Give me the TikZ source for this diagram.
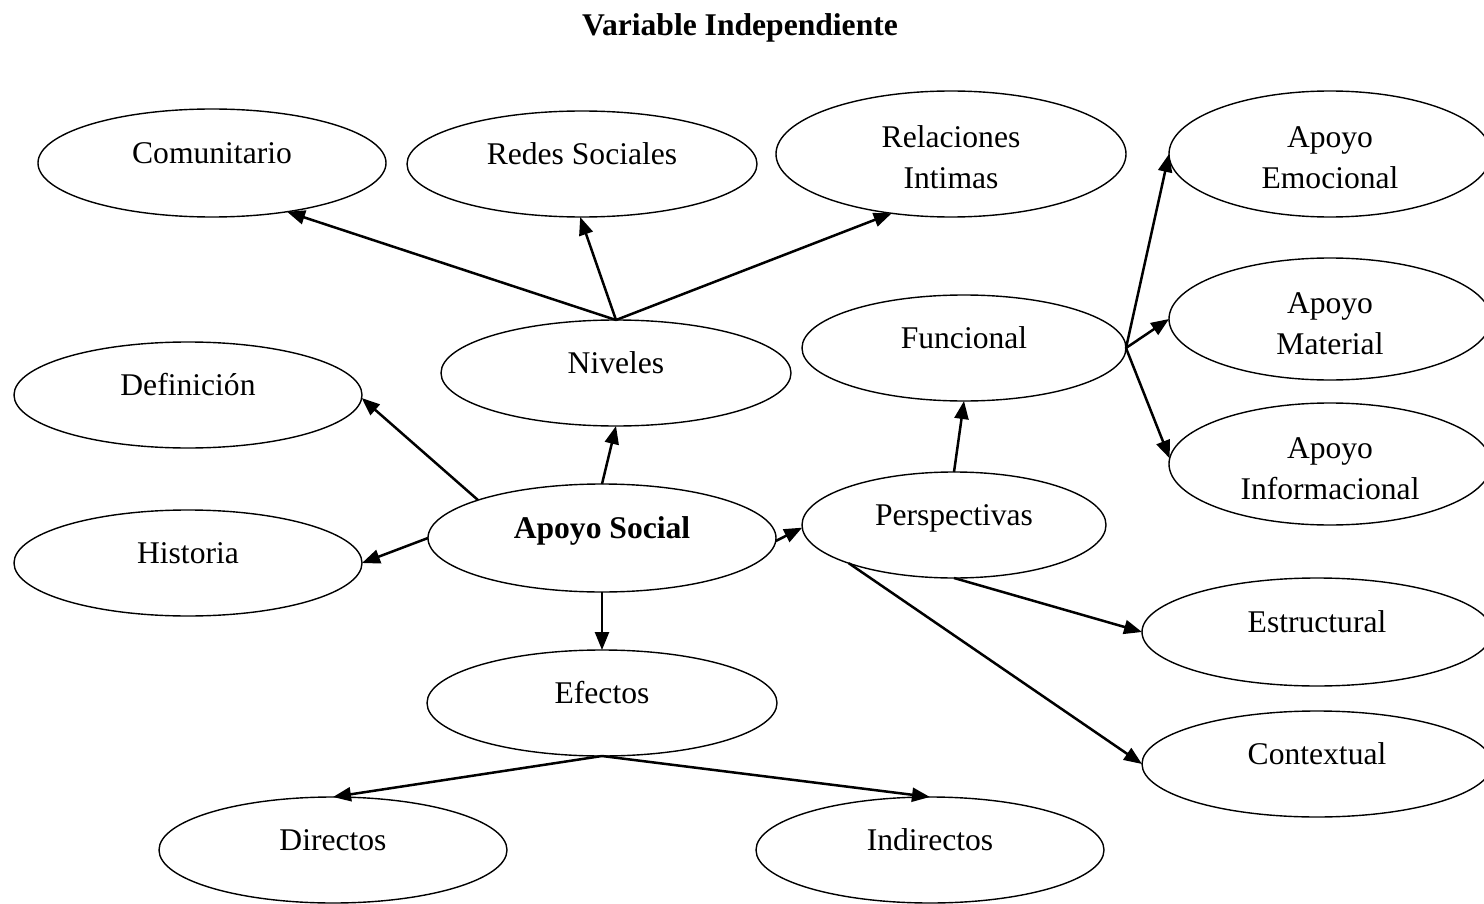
\documentclass[tikz,border=0pt]{standalone}
\usepackage{fontspec}
\setmainfont{Liberation Serif}
\usetikzlibrary{arrows.meta,shapes.geometric}

% two centred lines whose first baseline sits 3pt above the node centre
\newcommand{\twolines}[2]{\raisebox{3pt}{\begin{tabular}[t]{@{}c@{}}#1\\#2\end{tabular}}}

\begin{document}
\begin{tikzpicture}[x=0.5pt,y=-0.5pt,
  bubble/.style={ellipse, draw, line width=0.7pt, inner sep=0pt, outer sep=0pt,
    text height=0pt, text depth=0pt,
    font=\fontsize{15.8}{20.5}\selectfont},
  link/.style={-{Triangle[length=9pt,width=7pt]}, line width=1.25pt},
]
\clip (0,0) rectangle (1484,904);

% title
\node[font=\bfseries\fontsize{15.8}{19}\selectfont, text height=0pt, text depth=0pt]
  (title) at (740,36) {Variable Independiente};

% levels
\node[bubble,minimum width=174pt,minimum height=54pt] (comun) at (212,163) {Comunitario};
\node[bubble,minimum width=175pt,minimum height=53pt] (redes) at (582,164) {Redes Sociales};
\node[bubble,minimum width=175pt,minimum height=63pt] (relac) at (951,154) {\twolines{Relaciones}{Intimas}};
\node[bubble,minimum width=175pt,minimum height=53pt] (nivel) at (616,373) {Niveles};

% functional support types
\node[bubble,minimum width=161pt,minimum height=63pt] (emoc) at (1330,154) {\twolines{Apoyo}{Emocional}};
\node[bubble,minimum width=161pt,minimum height=61pt] (mater) at (1330,319) {\twolines{Apoyo}{Material}};
\node[bubble,minimum width=161pt,minimum height=61pt] (inform) at (1330,464) {\twolines{Apoyo}{Informacional}};
\node[bubble,minimum width=162pt,minimum height=53pt] (func) at (964,348) {Funcional};

% centre and left side
\node[bubble,minimum width=174pt,minimum height=53pt] (defin) at (188,395) {Definición};
\node[bubble,minimum width=174pt,minimum height=53pt] (hist) at (188,563) {Historia};
\node[bubble,minimum width=174pt,minimum height=54pt] (social) at (602,538) {\bfseries Apoyo Social};
\node[bubble,minimum width=152pt,minimum height=53pt] (persp) at (954,525) {Perspectivas};

% perspectives
\node[bubble,minimum width=175pt,minimum height=54pt] (estruc) at (1317,632) {Estructural};
\node[bubble,minimum width=175pt,minimum height=53pt] (context) at (1317,764) {Contextual};

% effects
\node[bubble,minimum width=175pt,minimum height=53pt] (efect) at (602,703) {Efectos};
\node[bubble,minimum width=174pt,minimum height=53pt] (direct) at (333,850) {Directos};
\node[bubble,minimum width=174pt,minimum height=53pt] (indirect) at (930,850) {Indirectos};

% connectors
\draw[link] (nivel.north) -- (comun.-33);
\draw[link] (nivel.north) -- (redes.-92);
\draw[link] (nivel.north) -- (relac.-135);
\draw[link] (social.163) -- (defin.-1);
\draw[link] (social.west) -- (hist.east);
\draw[link] (social.north) -- (nivel.south);
\draw[link] (social.-1) -- (persp.181);
\draw[link] (social.south) -- (efect.north);
\draw[link] (persp.north) -- (func.south);
\draw[link] (func.east) -- (emoc.west);
\draw[link] (func.east) -- (mater.west);
\draw[link] (func.east) -- (inform.178);
\draw[link] (persp.south) -- (estruc.west);
\draw[link] (persp.-160) -- (context.west);
\draw[link] (efect.south) -- (direct.north);
\draw[link] (efect.south) -- (indirect.north);
\end{tikzpicture}
\end{document}
